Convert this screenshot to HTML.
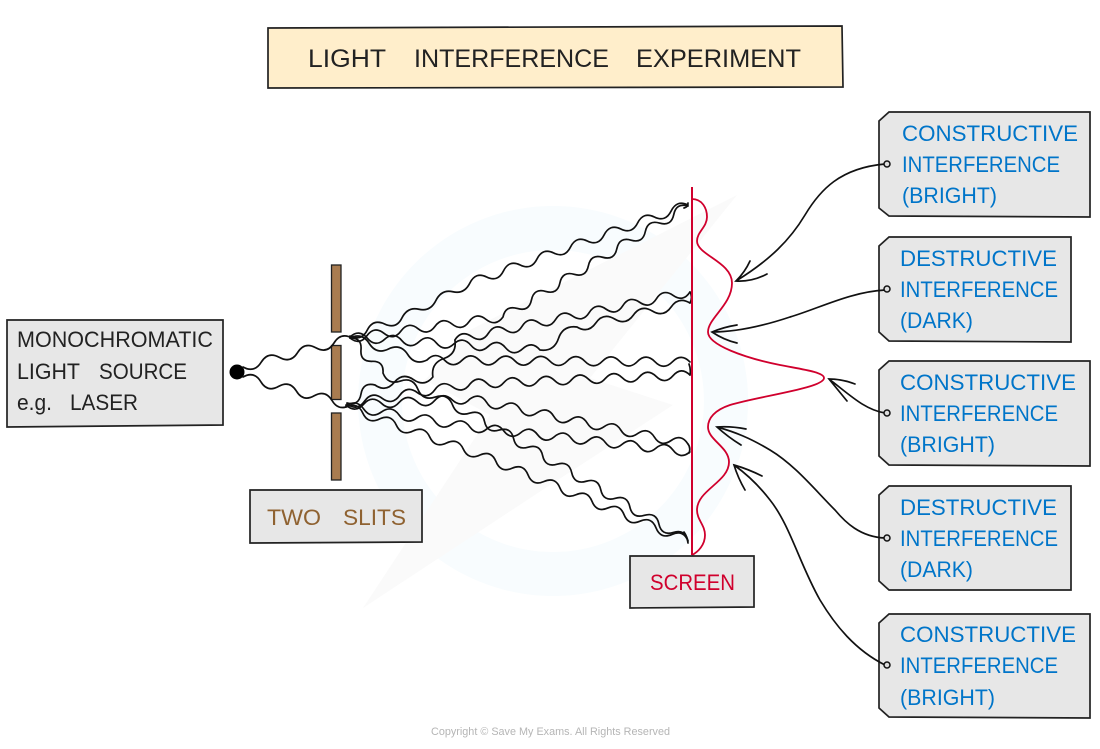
<!DOCTYPE html>
<html><head><meta charset="utf-8"><style>
html,body{margin:0;padding:0;background:#fff}
svg{display:block}
text{font-family:"Liberation Sans",sans-serif;font-size:22px}
.k text,text.k{fill:#222}
.b text{fill:#0075c9}
.box{fill:#e7e7e7;stroke:#222;stroke-width:1.7}
.w{fill:none;stroke:#111;stroke-width:1.7;stroke-linecap:round;stroke-linejoin:round}
.a{fill:none;stroke:#111;stroke-width:1.7;stroke-linecap:round}
.d{fill:#ddd;stroke:#111;stroke-width:1.5}
</style></head><body>
<svg width="1100" height="749" viewBox="0 0 1100 749" xmlns="http://www.w3.org/2000/svg">
<!-- watermark -->
<path fill-rule="evenodd" fill="#f8fcfe" d="M553 206a195 195 0 1 0 .1 0zM553 250a151 151 0 1 1-.1 0z"/>
<polygon fill="#fafafa" points="737,195 470,330 425,380 490,415 363,608 547,487 673,405 590,378"/>
<!-- title -->
<polygon points="268,28 842,26 843,87 268,88" fill="#ffeecb" stroke="#222" stroke-width="1.7"/>
<g class="k">
<text x="308" y="67" style="font-size:25px" textLength="78" lengthAdjust="spacingAndGlyphs">LIGHT</text>
<text x="414" y="67" style="font-size:25px" textLength="195" lengthAdjust="spacingAndGlyphs">INTERFERENCE</text>
<text x="636" y="67" style="font-size:25px" textLength="165" lengthAdjust="spacingAndGlyphs">EXPERIMENT</text>
</g>
<!-- source box -->
<polygon class="box" points="7,320 223,320 223,425 7,427"/>
<g class="k">
<text x="17" y="347" textLength="196" lengthAdjust="spacingAndGlyphs">MONOCHROMATIC</text>
<text x="17" y="379" textLength="63" lengthAdjust="spacingAndGlyphs">LIGHT</text>
<text x="99" y="379" textLength="88" lengthAdjust="spacingAndGlyphs">SOURCE</text>
<text x="17" y="410" textLength="35" lengthAdjust="spacingAndGlyphs">e.g.</text>
<text x="70" y="410" textLength="68" lengthAdjust="spacingAndGlyphs">LASER</text>
</g>
<!-- source -->
<circle cx="237" cy="372" r="7.5" fill="#000"/>
<!-- slits -->
<g fill="#a97c50" stroke="#222" stroke-width="1.3">
<rect x="331.500" y="265" width="9.500" height="67"/>
<rect x="331.500" y="345.500" width="9.500" height="54"/>
<rect x="331.500" y="413" width="9.500" height="67"/>
</g>
<polygon class="box" points="250,490 422,490 422,542 250,543"/>
<text x="267" y="525" fill="#8f6231" textLength="54" lengthAdjust="spacingAndGlyphs">TWO</text>
<text x="343" y="525" fill="#8f6231" textLength="63" lengthAdjust="spacingAndGlyphs">SLITS</text>
<!-- waves from source -->
<path class="w" d="M243 367q11.400 6.300 18.200-4.800t18.200-4.800t18.200-4.800t18.200-4.800t18.200-4.800t18.200-4.800"/>
<path class="w" d="M243 377q11.200-6.350 17.800 4.700t17.800 4.700t17.800 4.700t17.800 4.700t17.800 4.700t17.800 4.700"/>
<!-- upper slit rays -->
<path class="w" d="M350 336q11.600 5.500 17.300-6t17.300-6t17.300-6t17-8.750t17-8.750t17-8.750t17-8.750t16.770-6t16.770-6t16.770-6t16.770-6t16.770-6t16.770-6t16.770-6t16.770-6t16.770-6t16.770-6t16.770-6t16.770-6t16.770-6"/>
<path class="w" d="M350 338q9.700 7.700 17-2.330t17-2.330t17-2.330t17-2.330t17-2.330t17-2.330t17-2.330t17-2.330t17-2.330q2.500-12 14.230-8.540t14.230-8.540t14.230-8.540t14.230-8.540t14.230-8.540t14.230-8.540t14.230-8.540t14.230-8.540t14.230-8.540t14.230-8.540t14.230-8.540t14.230-8.540t14.230-8.540"/>
<path class="w" d="M350 337q9.200-8.400 17.270 1.180t17.270 1.180t17.270 1.180t17.270 1.180t17.270 1.180t17.270 1.180t17.270 1.180t17.270 1.180t17.270 1.180t17.270 1.180t17.270 1.180q14 1.900 18.500-11.500t18.500-11.500q11.300 6.800 18.830-4t18.830-4t18.830-4t18.830-4t18.830-4t18.830-4"/>
<path class="w" d="M350 338q12-5.850 19.250 5.500t19.250 5.500t19.250 5.500t19.250 5.500q8.800-8.900 17.530.13t17.530.13t17.530.13t17.530.13t17.530.13t17.530.13t17.530.13t17.530.13t17.530.13t17.530.13t17.530.13t17.530.13t17.530.13t17.530.13t17.530.13"/>
<path class="w" d="M350 338q12-.4 11 11.670t11 11.670t11 11.670q4.900 12.200 17.400 8t17.400 8t17.400 8t17.400 8t17.400 8q11.900-3.500 14.530 8.530t14.530 8.530t14.530 8.530t14.530 8.530t14.530 8.530t14.530 8.530t14.530 8.530t14.530 8.530t14.530 8.530t14.530 8.530t14.530 8.530t14.530 8.530t14.530 8.530t14.530 8.530t14.530 8.530"/>
<!-- lower slit rays -->
<path class="w" d="M347 403q11.900 3.100 14-9t14-9q10.900 7.600 19.300-2.670t19.300-2.670t19.300-2.670q-2.200-13.850 11-18.500t11-18.500q6.600-10.500 16.790-3.430t16.790-3.430t16.790-3.430t16.790-3.430t16.790-3.430t16.790-3.430t16.790-3.430t16.790-3.430t16.790-3.430t16.790-3.430t16.790-3.430t16.790-3.430t16.790-3.430t16.790-3.430"/>
<path class="w" d="M347 404q10.200 7.500 17.570-2.860t17.570-2.860t17.570-2.860t17.570-2.860t17.570-2.860t17.570-2.860t17.570-2.860q8.100-9.350 16.920-.69t16.920-.69t16.920-.69t16.920-.69t16.920-.69t16.920-.69t16.920-.69t16.920-.69t16.920-.69t16.920-.69t16.920-.69t16.920-.69t16.920-.69"/>
<path class="w" d="M346 405q9.300 8.600 17.700-.86t17.700-.86t17.700-.86t17.700-.86t17.700-.86t17.700-.86t17.700-.86q10.200-7.100 16.770 3.460t16.770 3.460t16.770 3.460t16.770 3.460t16.770 3.460t16.770 3.460t16.770 3.460t16.770 3.460t16.770 3.460t16.770 3.460t16.770 3.460t16.770 3.460t16.770 3.460"/>
<path class="w" d="M346 406q10.400-7.400 17.700 3t17.700 3t17.700 3t17.700 3t17.700 3t17.700 3t17.700 3q7.500 9.900 16.920 1.920t16.920 1.920t16.920 1.920t16.920 1.920t16.920 1.920t16.920 1.920t16.920 1.920t16.920 1.920t16.920 1.920t16.920 1.920t16.920 1.920t16.920 1.920t16.920 1.920"/>
<path class="w" d="M346 407q11.500-5.500 16.750 6t16.750 6t16.750 6t16.750 6t16.750 6t16.750 6t16.750 6t16.750 6q11.400-5 16 6.620t16 6.620t16 6.620t16 6.620t16 6.620t16 6.620t16 6.620t16 6.620t16 6.620t16 6.620t16 6.620t16 6.620t16 6.620"/>
<path class="w" d="M690 292q3 5 0 11M690 375q1-6-1-11M688 444q3 4 1 9M684 532q3 4 4 11M684 208q4-1 4-5"/>
<!-- screen -->
<path d="M692 187V555" fill="none" stroke="#d0002d" stroke-width="2"/>
<path fill="none" stroke="#d0002d" stroke-width="1.800" d="M692 199C702 199 707 208 707 217C707 227 697 232 697 241C697 255 732 262 732 283C732 305 708 318 708 332C708 345 745 358 780 365C800 369 824 372 824 378C824 388 760 396 730 405C715 410 708 418 708 427C708 440 729 447 729 462C729 482 697 490 697 510C697 520 705 525 705 535C705 545 698 552 692 555"/>
<polygon class="box" points="630,556 754,556 754,607 630,608"/>
<text x="650" y="590" fill="#d0002d" textLength="85" lengthAdjust="spacingAndGlyphs">SCREEN</text>
<!-- tag boxes -->
<polygon class="box" points="889,112 1090,112 1090,217 889,216 879,208 879,121"/>
<polygon class="box" points="889,237 1071,237 1071,342 889,341 879,332 879,246"/>
<polygon class="box" points="889,361 1090,361 1090,466 889,465 879,456 879,370"/>
<polygon class="box" points="889,486 1071,486 1071,590 889,590 879,581 879,495"/>
<polygon class="box" points="889,614 1090,614 1090,718 889,717 879,708 879,623"/>
<g class="b">
<text x="902" y="141" textLength="176" lengthAdjust="spacingAndGlyphs">CONSTRUCTIVE</text>
<text x="902" y="172" textLength="158" lengthAdjust="spacingAndGlyphs">INTERFERENCE</text>
<text x="902" y="203" textLength="95" lengthAdjust="spacingAndGlyphs">(BRIGHT)</text>
<text x="900" y="266" textLength="157" lengthAdjust="spacingAndGlyphs">DESTRUCTIVE</text>
<text x="900" y="297" textLength="158" lengthAdjust="spacingAndGlyphs">INTERFERENCE</text>
<text x="900" y="328" textLength="73" lengthAdjust="spacingAndGlyphs">(DARK)</text>
<text x="900" y="390" textLength="176" lengthAdjust="spacingAndGlyphs">CONSTRUCTIVE</text>
<text x="900" y="421" textLength="158" lengthAdjust="spacingAndGlyphs">INTERFERENCE</text>
<text x="900" y="452" textLength="95" lengthAdjust="spacingAndGlyphs">(BRIGHT)</text>
<text x="900" y="515" textLength="157" lengthAdjust="spacingAndGlyphs">DESTRUCTIVE</text>
<text x="900" y="546" textLength="158" lengthAdjust="spacingAndGlyphs">INTERFERENCE</text>
<text x="900" y="577" textLength="73" lengthAdjust="spacingAndGlyphs">(DARK)</text>
<text x="900" y="642" textLength="176" lengthAdjust="spacingAndGlyphs">CONSTRUCTIVE</text>
<text x="900" y="673" textLength="158" lengthAdjust="spacingAndGlyphs">INTERFERENCE</text>
<text x="900" y="705" textLength="95" lengthAdjust="spacingAndGlyphs">(BRIGHT)</text>
</g>
<!-- connectors -->
<path class="a" d="M885 164C840 168 820 190 805 215C790 240 770 260 736 281M750 261Q745 272 736 281Q752 282 767 274"/>
<path class="a" d="M885 290C850 292 820 308 790 317C760 327 735 332 712 332M737 325Q724 327 712 332Q724 340 737 343"/>
<path class="a" d="M885 413C865 410 850 395 829 379M855 384Q842 379 829 379Q838 390 847 401"/>
<path class="a" d="M885 538C860 537 845 522 835 510C815 490 795 465 770 450C750 438 735 432 717 427M746 429Q731 426 717 427Q728 437 741 445"/>
<path class="a" d="M885 665C855 650 835 625 820 600C800 565 790 525 770 500C760 487 748 475 734 465M762 476Q748 469 734 465Q738 478 745 490"/>
<circle class="d" cx="887" cy="164" r="3"/>
<circle class="d" cx="887" cy="289" r="3"/>
<circle class="d" cx="887" cy="413" r="3"/>
<circle class="d" cx="887" cy="538" r="3"/>
<circle class="d" cx="887" cy="665" r="3"/>
<text x="431" y="735" style="font-size:11px" fill="#b5b5b5" textLength="239" lengthAdjust="spacingAndGlyphs">Copyright © Save My Exams. All Rights Reserved</text>
</svg>
</body></html>
